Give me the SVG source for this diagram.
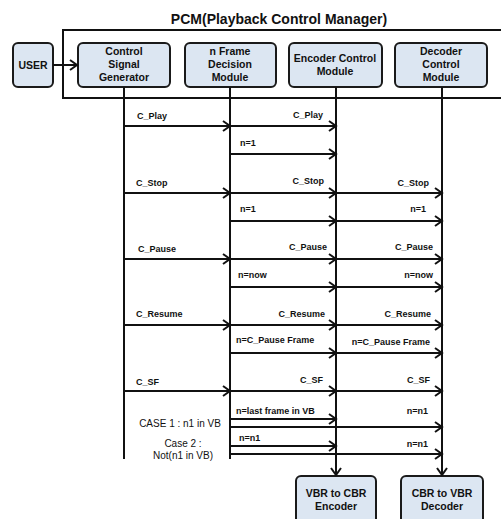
<svg xmlns="http://www.w3.org/2000/svg" width="501" height="519" viewBox="0 0 501 519">
<style>
text{font-family:"Liberation Sans",Arial,sans-serif;font-weight:bold;fill:#111}
.t{font-size:14px;text-anchor:middle}
.n{font-size:10.5px;text-anchor:middle}
.l{font-size:9px}
.r{font-size:9px;text-anchor:end}
.c{font-size:10px;text-anchor:middle;font-weight:normal}
.box{fill:#dce6f2;stroke:#1a1a1a;stroke-width:2}
.ln{stroke:#111;stroke-width:2;fill:none}
.a{stroke:#111;stroke-width:2;fill:none;marker-end:url(#ah)}
</style>
<defs>
<marker id="ah" markerUnits="userSpaceOnUse" markerWidth="10" markerHeight="12" refX="8" refY="6" orient="auto">
<path d="M1,1 L8,6 L1,11" fill="none" stroke="#111" stroke-width="2"/>
</marker>
</defs>
<rect width="501" height="519" fill="#fff"/>
<text class="t" x="279" y="24">PCM(Playback Control Manager)</text>
<rect x="63" y="30" width="445" height="68" fill="none" stroke="#111" stroke-width="2"/>
<g id="user"><rect class="box" x="13" y="43" width="40" height="44" rx="5"/><text class="n" x="33" y="69">USER</text></g>
<g id="csg"><rect class="box" x="78" y="43" width="92" height="44" rx="5"/><text class="n" x="124" y="55">Control</text><text class="n" x="124" y="68">Signal</text><text class="n" x="124" y="81">Generator</text></g>
<g id="nfd"><rect class="box" x="185" y="43" width="91" height="44" rx="5"/><text class="n" x="230" y="55">n Frame</text><text class="n" x="230" y="68">Decision</text><text class="n" x="230" y="81">Module</text></g>
<g id="ecm"><rect class="box" x="289" y="43" width="93" height="44" rx="5"/><text class="n" x="335" y="62">Encoder Control</text><text class="n" x="335" y="75">Module</text></g>
<g id="dcm"><rect class="box" x="395" y="43" width="92" height="44" rx="5"/><text class="n" x="441" y="55">Decoder</text><text class="n" x="441" y="68">Control</text><text class="n" x="441" y="81">Module</text></g>
<g id="enc"><rect class="box" x="296" y="476" width="80" height="52" rx="5"/><text class="n" x="336" y="497">VBR to CBR</text><text class="n" x="336" y="510">Encoder</text></g>
<g id="dec"><rect class="box" x="401" y="476" width="82" height="52" rx="5"/><text class="n" x="442" y="497">CBR to VBR</text><text class="n" x="442" y="510">Decoder</text></g>
<g id="connectors">
<line class="a" x1="53" y1="65" x2="77" y2="65"/>
<line class="ln" x1="124" y1="87" x2="124" y2="459"/>
<line class="ln" x1="230" y1="87" x2="230" y2="459"/>
<line class="a" x1="336" y1="87" x2="336" y2="475"/>
<line class="a" x1="442" y1="87" x2="442" y2="475"/>
<line class="a" x1="124" y1="126" x2="230" y2="126"/>
<line class="a" x1="230" y1="126" x2="336" y2="126"/>
<line class="a" x1="230" y1="154" x2="336" y2="154"/>
<line class="a" x1="124" y1="193" x2="230" y2="193"/>
<line class="a" x1="230" y1="193" x2="336" y2="193"/>
<line class="a" x1="336" y1="193" x2="442" y2="193"/>
<line class="a" x1="230" y1="221" x2="336" y2="221"/>
<line class="a" x1="336" y1="221" x2="442" y2="221"/>
<line class="a" x1="124" y1="259" x2="230" y2="259"/>
<line class="a" x1="230" y1="259" x2="336" y2="259"/>
<line class="a" x1="336" y1="259" x2="442" y2="259"/>
<line class="a" x1="230" y1="287" x2="336" y2="287"/>
<line class="a" x1="336" y1="287" x2="442" y2="287"/>
<line class="a" x1="124" y1="325" x2="230" y2="325"/>
<line class="a" x1="230" y1="325" x2="336" y2="325"/>
<line class="a" x1="336" y1="325" x2="442" y2="325"/>
<line class="a" x1="230" y1="353" x2="336" y2="353"/>
<line class="a" x1="336" y1="353" x2="442" y2="353"/>
<line class="a" x1="124" y1="391" x2="230" y2="391"/>
<line class="a" x1="230" y1="391" x2="336" y2="391"/>
<line class="a" x1="336" y1="391" x2="442" y2="391"/>
<line class="a" x1="230" y1="419" x2="336" y2="419"/>
<line class="a" x1="230" y1="427" x2="442" y2="427"/>
<line class="a" x1="230" y1="446" x2="336" y2="446"/>
<line class="a" x1="230" y1="454" x2="442" y2="454"/>
</g>
<g id="labels">
<text class="l" x="137" y="119">C_Play</text>
<text class="r" x="323" y="118">C_Play</text>
<text class="l" x="240" y="146">n=1</text>
<text class="l" x="136" y="186">C_Stop</text>
<text class="r" x="324" y="184">C_Stop</text>
<text class="r" x="429" y="186">C_Stop</text>
<text class="l" x="240" y="212">n=1</text>
<text class="r" x="426" y="212">n=1</text>
<text class="l" x="138" y="252">C_Pause</text>
<text class="r" x="327" y="250">C_Pause</text>
<text class="r" x="433" y="250">C_Pause</text>
<text class="l" x="238" y="278">n=now</text>
<text class="r" x="433" y="278">n=now</text>
<text class="l" x="136" y="317">C_Resume</text>
<text class="r" x="325" y="317">C_Resume</text>
<text class="r" x="431" y="317">C_Resume</text>
<text class="l" x="236" y="343">n=C_Pause Frame</text>
<text class="r" x="430" y="345">n=C_Pause Frame</text>
<text class="l" x="136" y="385">C_SF</text>
<text class="r" x="323" y="383">C_SF</text>
<text class="r" x="430" y="383">C_SF</text>
<text class="l" x="236" y="414">n=last frame in VB</text>
<text class="r" x="428" y="414">n=n1</text>
<text class="c" x="180" y="427">CASE 1 : n1 in VB</text>
<text class="l" x="239" y="441">n=n1</text>
<text class="c" x="183" y="447">Case 2 :</text>
<text class="r" x="428" y="447">n=n1</text>
<text class="c" x="183" y="459">Not(n1 in VB)</text>
</g>
</svg>
